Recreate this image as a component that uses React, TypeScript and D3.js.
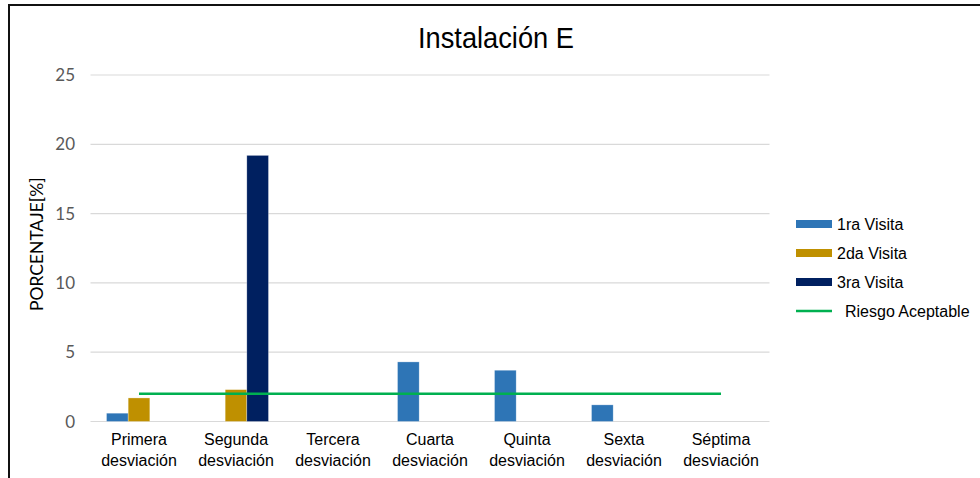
import React from "react";
import * as d3 from "d3";

const categories = [
  ["Primera", "desviación"],
  ["Segunda", "desviación"],
  ["Tercera", "desviación"],
  ["Cuarta", "desviación"],
  ["Quinta", "desviación"],
  ["Sexta", "desviación"],
  ["Séptima", "desviación"],
];
const seriesNames = ["1ra Visita", "2da Visita", "3ra Visita"];
const visita1 = [0.6, 0, 0, 4.3, 3.7, 1.2, 0];
const visita2 = [1.7, 2.3, 0, 0, 0, 0, 0];
const visita3 = [0, 19.2, 0, 0, 0, 0, 0];
const riesgoAceptable = [2, 2, 2, 2, 2, 2, 2];
const riesgoName = "Riesgo Aceptable";
const yTicks = [0, 5, 10, 15, 20, 25];

const colors = ["#2E75B6", "#BF9000", "#002060"];
const lineColor = "#00B050";

const W = 980;
const H = 478;
const plot = { left: 90.5, right: 769.5, top: 75, bottom: 421.5 };

export default function App() {
  const series = [visita1, visita2, visita3];
  const keys = categories.map((c) => c.join(" "));
  const x0 = d3
    .scaleBand<string>()
    .domain(keys)
    .range([plot.left, plot.right])
    .paddingInner(0.33)
    .paddingOuter(0.165);
  const x1 = d3
    .scaleBand<number>()
    .domain([0, 1, 2])
    .range([0, x0.bandwidth()]);
  const y = d3.scaleLinear().domain([0, 25]).range([plot.bottom, plot.top]);
  const line = d3
    .line<number>()
    .x((_, i) => (x0(keys[i]) as number) + x0.bandwidth() / 2)
    .y((d) => y(d));

  const legendX = 796;
  const legendY = [224, 253, 282, 311];

  return (
    <svg
      width={W}
      height={H}
      style={{ position: "absolute", left: 0, top: 0 }}
      fontFamily="'Liberation Sans', Arial, sans-serif"
    >
      <rect x={0} y={0} width={W} height={H} fill="#fff" />
      {/* frame */}
      <path d={`M9,${H} V5 H${W}`} fill="none" stroke="#111" strokeWidth={2} />

      <text
        x={496}
        y={48}
        textAnchor="middle"
        fontSize={29}
        fill="#000"
        transform="translate(496,0) scale(0.94,1) translate(-496,0)"
      >
        Instalación E
      </text>

      {/* grid + y ticks */}
      {yTicks.map((t) => (
        <g key={t}>
          <line
            x1={plot.left}
            x2={plot.right}
            y1={y(t)}
            y2={y(t)}
            stroke="#D9D9D9"
            strokeWidth={1.2}
          />
          <text
            x={75}
            y={y(t) + 6}
            textAnchor="end"
            fontSize={17}
            fontFamily="Lato, 'Open Sans', sans-serif"
            fill="#595959"
          >
            {t}
          </text>
        </g>
      ))}

      <text
        transform={`translate(43,${(plot.top + plot.bottom) / 2 - 4}) rotate(-90)`}
        textAnchor="middle"
        fontSize={17.5}
        fontFamily="Lato, 'Open Sans', sans-serif"
        fill="#000"
      >
        PORCENTAJE[%]
      </text>

      {/* bars */}
      {keys.map((k, ci) => (
        <g key={k} transform={`translate(${x0(k)},0)`}>
          {series.map((s, si) =>
            s[ci] > 0 ? (
              <rect
                key={si}
                x={x1(si)}
                width={x1.bandwidth()}
                y={y(s[ci])}
                height={y(0) - y(s[ci])}
                fill={colors[si]}
                stroke="#ffffff"
                strokeOpacity={0.5}
                strokeWidth={0.6}
              />
            ) : null
          )}
        </g>
      ))}

      {/* acceptable risk line */}
      <path d={line(riesgoAceptable) || ""} fill="none" stroke={lineColor} strokeWidth={2.5} />

      {/* category labels */}
      {categories.map((c, i) => {
        const cx = (x0(keys[i]) as number) + x0.bandwidth() / 2;
        return (
          <text key={i} x={cx} y={445} textAnchor="middle" fontSize={16} fill="#000">
            <tspan x={cx} dy={0}>
              {c[0]}
            </tspan>
            <tspan x={cx} dy={21}>
              {c[1]}
            </tspan>
          </text>
        );
      })}

      {/* legend */}
      {seriesNames.map((n, i) => (
        <g key={n}>
          <rect x={legendX} y={legendY[i] - 4} width={36} height={8} fill={colors[i]} />
          <text x={legendX + 41} y={legendY[i] + 5.5} fontSize={16} fill="#000">
            {n}
          </text>
        </g>
      ))}
      <line
        x1={legendX}
        x2={legendX + 36}
        y1={legendY[3]}
        y2={legendY[3]}
        stroke={lineColor}
        strokeWidth={2.5}
      />
      <text x={legendX + 49} y={legendY[3] + 5.5} fontSize={16} fill="#000">
        {riesgoName}
      </text>
    </svg>
  );
}
